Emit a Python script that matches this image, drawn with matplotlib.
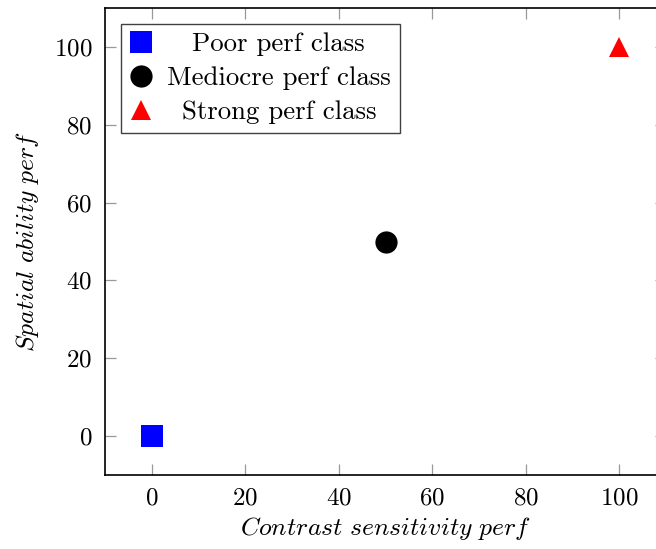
import matplotlib
matplotlib.use("Agg")
import matplotlib.pyplot as plt

plt.rcParams['font.family'] = ['cmr10', 'DejaVu Serif']
plt.rcParams['mathtext.fontset'] = 'cm'
plt.rcParams['axes.formatter.use_mathtext'] = True

# performance classes: (contrast sensitivity, spatial ability)
class_names = ["Poor perf class", "Mediocre perf class", "Strong perf class"]
contrast_perf = [0, 50, 100]
spatial_perf = [0, 50, 100]
class_colors = ["blue", "black", "red"]
class_markers = ["s", "o", "^"]
marker_sizes = [16, 16, 14.5]

x_ticks = [0, 20, 40, 60, 80, 100]
y_ticks = [0, 20, 40, 60, 80, 100]

fig = plt.figure(figsize=(6.56, 5.49), dpi=100)
ax = fig.add_axes([105 / 656, 1 - 475 / 549, (666 - 105) / 656, (475 - 8) / 549])

for name, x, y, c, m, s in zip(class_names, contrast_perf, spatial_perf,
                                class_colors, class_markers, marker_sizes):
    ax.plot([x], [y], linestyle="none", marker=m, markersize=s, color=c,
            markeredgewidth=0, label=name)

ax.set_xlim(-10, 110)
ax.set_ylim(-10, 110)
ax.set_xticks(x_ticks)
ax.set_yticks(y_ticks)
ax.tick_params(direction="in", length=8, width=0.9, color="0.6",
               top=True, right=True, labelsize=18, pad=9)
for sp in ax.spines.values():
    sp.set_linewidth(1.2)

ax.set_xlabel(r"$\mathit{Contrast\ sensitivity\ perf}$", fontsize=18.5, labelpad=4)
ax.set_ylabel(r"$\mathit{Spatial\ ability\ perf}$", fontsize=18.5, labelpad=9)

leg = ax.legend(loc="upper left", fontsize=19.3, fancybox=False, edgecolor="0.25",
                framealpha=1, borderaxespad=0.58, handlelength=0.85,
                handletextpad=0.55, labelspacing=0.38, borderpad=0.33,
                markerscale=1.0)
leg.get_frame().set_linewidth(1.0)

# centre the legend entries like a tabular column
fig.canvas.draw()
renderer = fig.canvas.get_renderer()
texts = leg.get_texts()
widths = [t.get_window_extent(renderer).width for t in texts]
wmax = max(widths)
for t, w in zip(texts, widths):
    t.set_x((wmax - w) / 2)

fig.savefig("out.png", dpi=100)
